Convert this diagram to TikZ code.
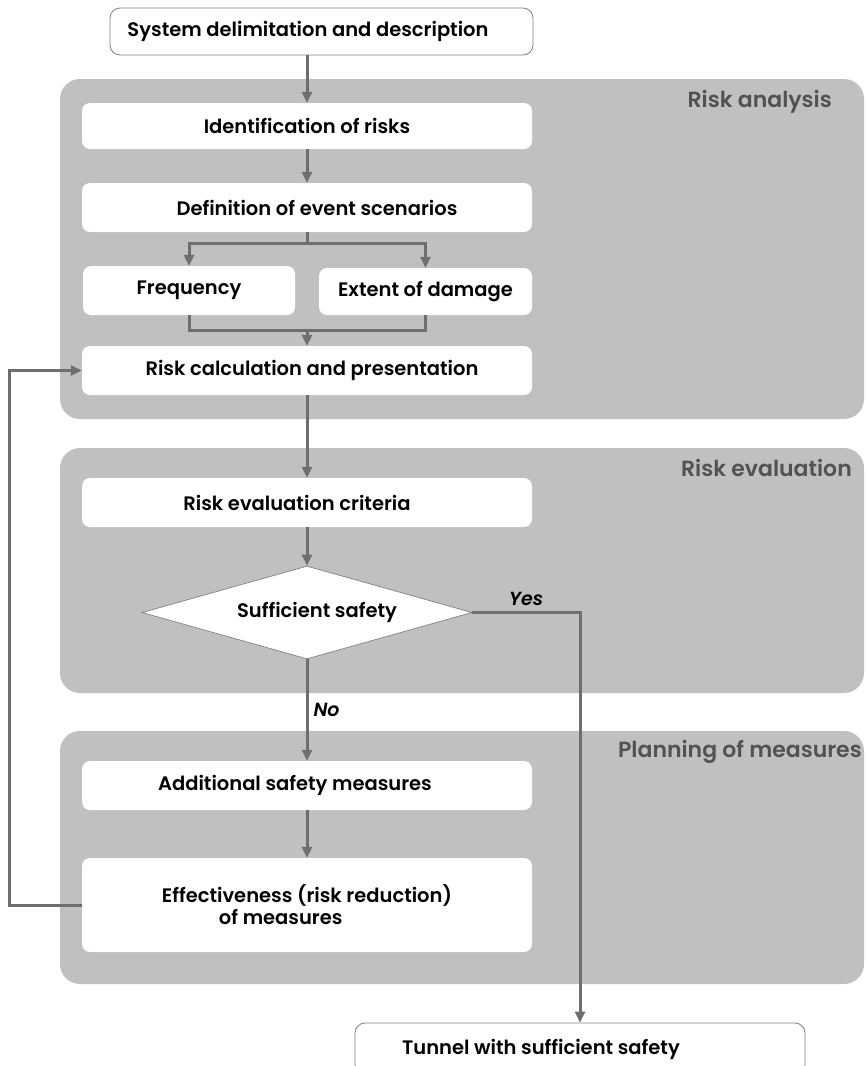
\documentclass[tikz,border=0pt]{standalone}
\usepackage{fontspec}
\setmainfont{Poppins}[BoldFont={* SemiBold}, BoldItalicFont={* SemiBold Italic}]
\usetikzlibrary{arrows.meta}
\usetikzlibrary{shapes.geometric}

\definecolor{panelgray}{RGB}{192,192,192}
\definecolor{flowgray}{RGB}{110,110,110}
\definecolor{labelgray}{RGB}{82,82,82}
\definecolor{rimgray}{RGB}{128,128,128}

\begin{document}
\begin{tikzpicture}[x=1pt, y=-1pt,
		stepbox/.style={fill=white, rounded corners=8pt, minimum width=450pt, minimum height=48pt, inner sep=0pt, font=\fontsize{19.5}{22}\selectfont\bfseries},
		endbox/.style={stepbox, draw=rimgray, line width=0.8pt, rounded corners=10pt},
		shifted/.style={execute at begin node={\hspace*{#1}}},
		decision/.style={diamond, aspect=3.55, fill=white, draw=rimgray, line width=0.7pt, minimum width=330pt, minimum height=93pt, inner sep=0pt, font=\fontsize{19.5}{22}\selectfont\bfseries},
		flow/.style={draw=flowgray, line width=3pt, -{Triangle[length=11pt,width=10pt]}},
		joint/.style={draw=flowgray, line width=3pt},
		panel/.style={fill=panelgray, rounded corners=20pt},
		phase/.style={text=labelgray, anchor=east, inner sep=0pt, font=\fontsize{22}{25}\selectfont\bfseries},
		answer/.style={inner sep=5pt, font=\fontsize{19}{22}\selectfont\bfseries\itshape}]
			\useasboundingbox (0,0) rectangle (866,1066);
			\clip (0,0) rectangle (866,1066);
			% phases
			\fill[panel] (60,79) rectangle (864,419);
			\fill[panel] (60,448) rectangle (864,693);
			\fill[panel] (60,731) rectangle (864,984);
			\node[phase] (analysis) at (832,102) {Risk analysis};
			\node[phase] (evaluation) at (852,468) {Risk evaluation};
			\node[phase] (planning) at (862,752) {Planning of measures};
			% steps
			\node[endbox, minimum width=423pt, minimum height=47pt, shifted=-27pt] (system) at (321.5,31.5) {System delimitation and description};
			\node[stepbox, minimum height=46pt] (ident) at (307,126) {Identification of risks};
			\node[stepbox, minimum height=49pt, shifted=20pt] (scenarios) at (307,207.5) {Definition of event scenarios};
			\node[stepbox, minimum width=212pt, minimum height=49pt] (frequency) at (189,290.5) {\raisebox{3pt}{Frequency}};
			\node[stepbox, minimum width=213pt, minimum height=47pt] (damage) at (425.5,291.5) {\raisebox{-9pt}{Extent of damage}};
			\node[stepbox, minimum height=49pt, shifted=10pt] (calc) at (307,370.5) {Risk calculation and presentation};
			\node[stepbox, minimum height=49pt, shifted=-20pt] (criteria) at (307,502.5) {Risk evaluation criteria};
			\node[decision, shifted=20pt] (safety) at (307,612.5) {Sufficient safety};
			\node[stepbox, minimum height=49pt, shifted=-24pt] (measures) at (307,785.5) {Additional safety measures};
			\node[stepbox, minimum height=94pt, align=left] (effect) at (307,905) {Effectiveness (risk reduction)\\\hspace*{57pt}of measures};
			\node[endbox, minimum height=52pt, shifted=-78pt] (tunnel) at (580,1049) {Tunnel with sufficient safety};
			% flow
			\draw[flow] (ident.north |- system.south) -- (ident.north);
			\draw[flow] (ident) -- (scenarios);
			\draw[joint] (scenarios.south) -- ++(0,11) coordinate (split);
			\draw[flow] (split) -| (frequency.north);
			\draw[flow] (split) -| (damage.north);
			\draw[joint] (frequency.south) -- ++(0,15) coordinate (merge) -| (damage.south);
			\draw[flow] (merge -| calc.north) -- (calc.north);
			\draw[flow] (calc) -- (criteria);
			\draw[flow] (criteria) -- (safety);
			\draw[flow] (safety.south) -- (measures.north) node[answer, pos=0.5, right] {No};
			\draw[flow] (safety.east) -| (tunnel.north) node[answer, pos=0.25, above] {Yes};
			\draw[flow] (measures) -- (effect);
			\draw[flow] (effect.west) -- ++(-72,0) |- (calc.west);
\end{tikzpicture}
\end{document}
